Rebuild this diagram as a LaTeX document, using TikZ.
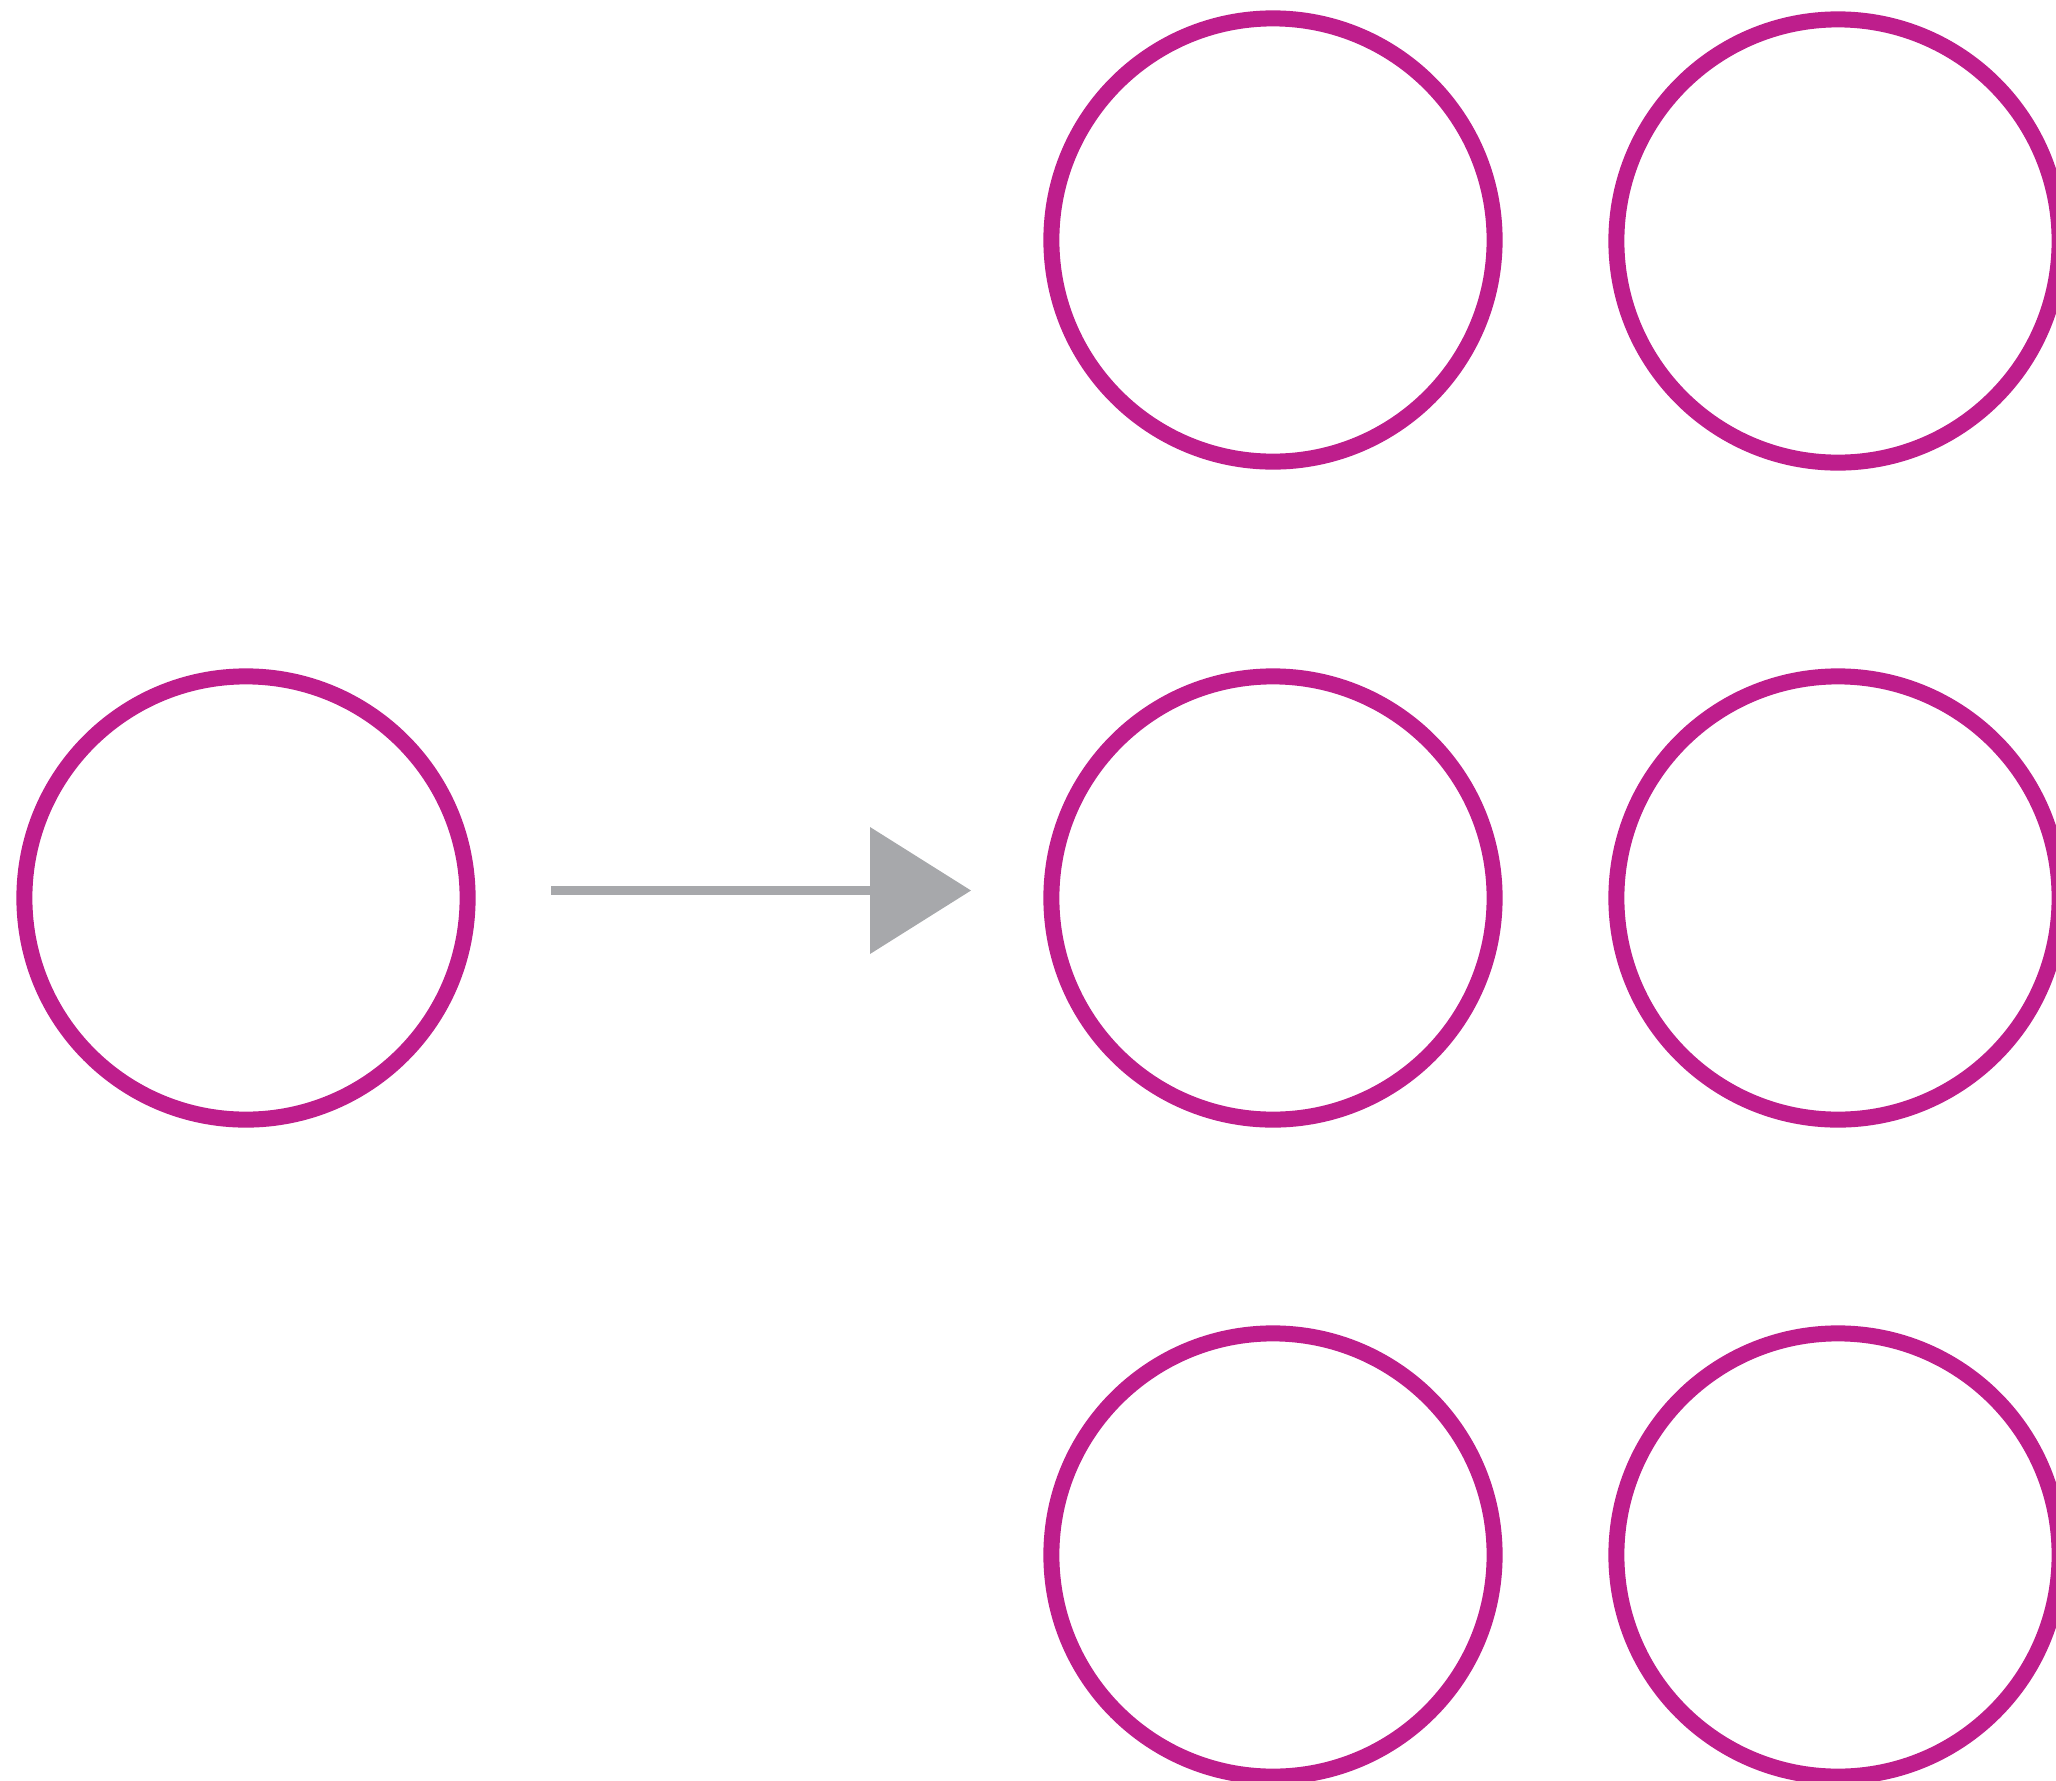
\documentclass[tikz,border=0pt]{standalone}
\definecolor{ring}{RGB}{190,30,140}
\definecolor{arrowgray}{RGB}{167,168,171}
\begin{document}
\begin{tikzpicture}[x=0.01cm,y=-0.01cm,
  ringnode/.style={circle,draw=ring,line width=0.16cm,minimum size=4.43cm,inner sep=0pt},
  flow/.style={draw=arrowgray,line width=0.085cm}]
\path[use as bounding box] (0,0) rectangle (2056,1781);
\clip (0,0) rectangle (2056,1781);
\node[ringnode] (src) at (246,898) {};
\node[ringnode] (a1) at (1273,240) {};
\node[ringnode] (a2) at (1273,898) {};
\node[ringnode] (a3) at (1273,1555) {};
\node[ringnode] (b1) at (1838,241) {};
\node[ringnode] (b2) at (1838,898) {};
\node[ringnode] (b3) at (1838,1555) {};
\coordinate (s) at (551,890.5);
\coordinate (e) at (871,890.5);
\coordinate (tip) at (971,890.5);
\draw[flow] (s) -- (e);
\fill[arrowgray] (870,827) -- (tip) -- (870,954) -- cycle;
\end{tikzpicture}
\end{document}
